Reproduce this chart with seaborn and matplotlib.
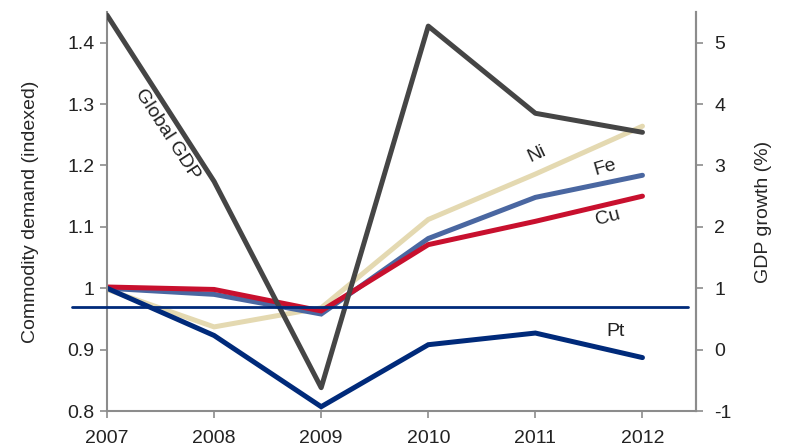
import numpy as np
import pandas as pd
import matplotlib
matplotlib.use("Agg")
import matplotlib.pyplot as plt
import seaborn as sns

years = [2007, 2008, 2009, 2010, 2011, 2012]
ni = [0.998, 0.937, 0.968, 1.112, 1.186, 1.264]
fe = [1.000, 0.990, 0.958, 1.081, 1.148, 1.184]
cu = [1.002, 0.998, 0.963, 1.071, 1.109, 1.150]
pt = [1.000, 0.923, 0.807, 0.908, 0.927, 0.887]
gdp = [5.45, 2.74, -0.62, 5.27, 3.85, 3.54]
ref_level = 0.969

metal_names = ["Ni", "Fe", "Cu", "Pt"]
metal_colors = {"Ni": "#e4d9b1", "Fe": "#4a67a1", "Cu": "#c8102e", "Pt": "#002a7a"}
gdp_color = "#454545"
axis_grey = "#8c8c8c"
fs = 14

sns.set_theme(style="white")
plt.rcParams["font.family"] = ["Liberation Sans", "DejaVu Sans"]
plt.rcParams["text.color"] = "#222222"

metals = pd.DataFrame({
    "year": years * 4,
    "metal": sum([[m] * len(years) for m in metal_names], []),
    "demand": ni + fe + cu + pt,
})
growth = pd.DataFrame({"year": years, "gdp": gdp})

fig = plt.figure(figsize=(7.88, 4.47), dpi=100)
ax = fig.add_axes([107 / 788, 1 - 411 / 447, (696 - 107) / 788, (411 - 12) / 447])
ax2 = ax.twinx()

sns.lineplot(data=metals, x="year", y="demand", hue="metal", hue_order=metal_names,
             palette=metal_colors, linewidth=3.6, ax=ax, legend=False)
for line in ax.lines:
    line.set_solid_capstyle("round")
    line.set_solid_joinstyle("miter")

sns.lineplot(data=growth, x="year", y="gdp", color=gdp_color, linewidth=3.6,
             ax=ax2, legend=False)
for line in ax2.lines:
    line.set_solid_capstyle("round")

ax.set_xlim(2007, 2012.5)
ax.set_ylim(0.8, 1.45)
ax2.set_ylim(-1, 5.5)

ax.set_xticks(years)
ax.set_xticklabels([str(y) for y in years])
ax.set_yticks([0.8, 0.9, 1.0, 1.1, 1.2, 1.3, 1.4])
ax.set_yticklabels(["0.8", "0.9", "1", "1.1", "1.2", "1.3", "1.4"])
ax2.set_yticks([-1, 0, 1, 2, 3, 4, 5])
ax2.set_yticklabels(["-1", "0", "1", "2", "3", "4", "5"])

for a in (ax, ax2):
    a.set_xlabel("")
    a.spines["top"].set_visible(False)
    for s in ("left", "right", "bottom"):
        a.spines[s].set_color(axis_grey)
        a.spines[s].set_linewidth(1.5)
    a.tick_params(axis="both", colors=axis_grey, labelcolor="#222222",
                  labelsize=fs, length=5, width=1.2, direction="out")
ax.tick_params(axis="y", left=True, pad=4)
ax.tick_params(axis="x", bottom=True, pad=9)
ax2.tick_params(axis="y", right=True, pad=8)
ax2.spines["left"].set_visible(False)
ax2.spines["bottom"].set_visible(False)

ax.set_ylabel("Commodity demand (indexed)", fontsize=fs, labelpad=20)
ax2.set_ylabel("GDP growth (%)", fontsize=fs, labelpad=17)

# reference level across the plot
ax2.axhline((ref_level - 0.9) * 10, xmin=-0.06, xmax=0.986, color="#002a7a",
            linewidth=2.0, clip_on=False, zorder=10)

# series labels
ax.text(2007.56, 1.25, "Global GDP", rotation=-57, fontsize=fs,
        ha="center", va="center", rotation_mode="anchor")
ax.text(2011.01, 1.218, "Ni", rotation=25, fontsize=fs, ha="center", va="center")
ax.text(2011.65, 1.197, "Fe", rotation=16, fontsize=fs, ha="center", va="center")
ax.text(2011.68, 1.115, "Cu", rotation=15, fontsize=fs, ha="center", va="center")
ax.text(2011.75, 0.929, "Pt", fontsize=fs, ha="center", va="center")

fig.savefig("out.png", dpi=100)
